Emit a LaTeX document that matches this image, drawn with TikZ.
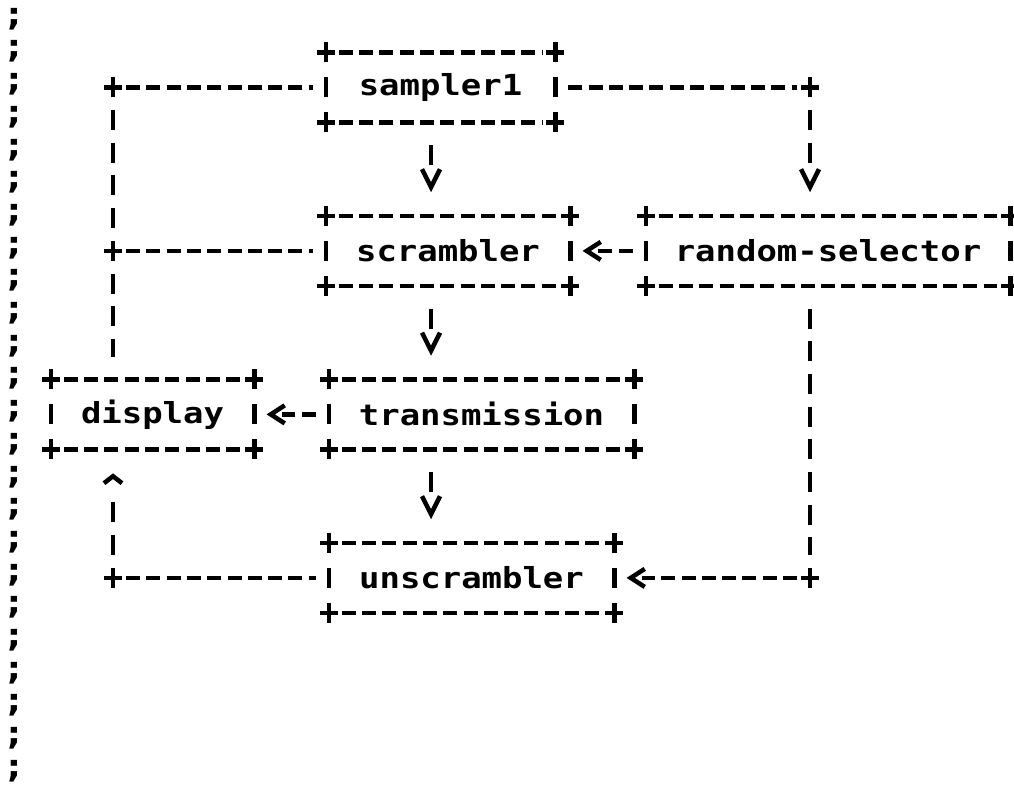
\documentclass[tikz,border=0pt]{standalone}
\usepackage{fontspec}
\setmonofont[FakeStretch=1.17]{DejaVu Sans Mono}
\usetikzlibrary{arrows.meta,decorations.markings}

\tikzset{
  crs/.pic={\draw[line width=4.5pt] (-9pt,0) -- (9pt,0) (0,-10pt) -- (0,10pt);}
}

\begin{document}
\begin{tikzpicture}[x=1pt,y=1pt,line width=4.5pt,
    font=\ttfamily\bfseries\fontsize{29}{34}\selectfont,
    blk/.style={minimum width=#1,minimum height=65.4pt,inner sep=0pt},
    hdash/.style={dash pattern=on 14pt off 6.3pt,shorten <=13pt,shorten >=13pt},
    vdash/.style={dash pattern=on 20pt off 12.7pt,shorten <=22.7pt,shorten >=22.7pt},
    ahead/.style n args={3}{shorten >=#1,postaction={decorate},
      decoration={markings,mark=at position -#2 with {\arrow{Straight Barb[length=#3,width=18pt]}}}}]
    \useasboundingbox (0,0) rectangle (1014,786);

    % margin marks
    \foreach \k in {0,...,23}
      \node[font=\ttfamily\bfseries\fontsize{33}{38}\selectfont,inner sep=0pt] (m\k) at (14,767-32.7*\k) {;};

    \node[blk=225pt] (sampler) at (440.5,698.6) {sampler1};
    \node[blk=240pt] (scrambler) at (448,535.1) {scrambler};
    \node[blk=360pt] (rsel) at (828,535.1) {random-selector};
    \node[blk=199pt] (display) at (152.5,371.6) {display};
    \node[blk=301pt] (trans) at (481.5,371.6) {transmission};
    \node[blk=281pt] (unscr) at (471.5,208.1) {unscrambler};

    \coordinate (lx) at (113,0);
    \coordinate (mx) at (431,0);
    \coordinate (rx) at (810,0);

    % ascii frames
    \foreach \b in {sampler,scrambler,rsel,display,trans,unscr} {
      \draw[hdash] (\b.north west) -- (\b.north east);
      \draw[hdash] (\b.south west) -- (\b.south east);
      \draw ([yshift=-10pt]\b.west) -- ([yshift=10pt]\b.west);
      \draw ([yshift=-10pt]\b.east) -- ([yshift=10pt]\b.east);
      \pic at (\b.north west) {crs};
      \pic at (\b.north east) {crs};
      \pic at (\b.south west) {crs};
      \pic at (\b.south east) {crs};
    }

    % left trunk
    \draw[hdash] (sampler.west -| lx) -- (sampler.west);
    \draw[hdash] (scrambler.west -| lx) -- (scrambler.west);
    \draw[vdash] (sampler.west -| lx) -- (display.north -| lx);
    \pic at (sampler.west -| lx) {crs};
    \pic at (scrambler.west -| lx) {crs};
    \draw[hdash] (unscr.west -| lx) -- (unscr.west);
    \draw[vdash,ahead={45pt}{24pt}{7pt}] (unscr.west -| lx) -- (display.south -| lx);
    \pic at (unscr.west -| lx) {crs};

    % middle column
    \draw[vdash,ahead={45pt}{23.7pt}{18pt}] (sampler.south -| mx) -- (scrambler.north -| mx);
    \draw[vdash,ahead={45pt}{23.7pt}{18pt}] (scrambler.south -| mx) -- (trans.north -| mx);
    \draw[vdash,ahead={45pt}{23.7pt}{18pt}] (trans.south -| mx) -- (unscr.north -| mx);
    \draw[hdash,ahead={28pt}{12.3pt}{14pt}] (trans.west) -- (display.east);

    % right trunk
    \draw[hdash] (sampler.east) -- (sampler.east -| rx);
    \draw[vdash,ahead={45pt}{23.7pt}{18pt}] (sampler.east -| rx) -- (rsel.north -| rx);
    \pic at (sampler.east -| rx) {crs};
    \draw[hdash,ahead={28pt}{12.3pt}{14pt}] (rsel.west) -- (scrambler.east);
    \draw[vdash] (rsel.south -| rx) -- (unscr.east -| rx);
    \draw[hdash,ahead={28pt}{12.3pt}{14pt}] (unscr.east -| rx) -- (unscr.east);
    \pic at (unscr.east -| rx) {crs};
\end{tikzpicture}
\end{document}
